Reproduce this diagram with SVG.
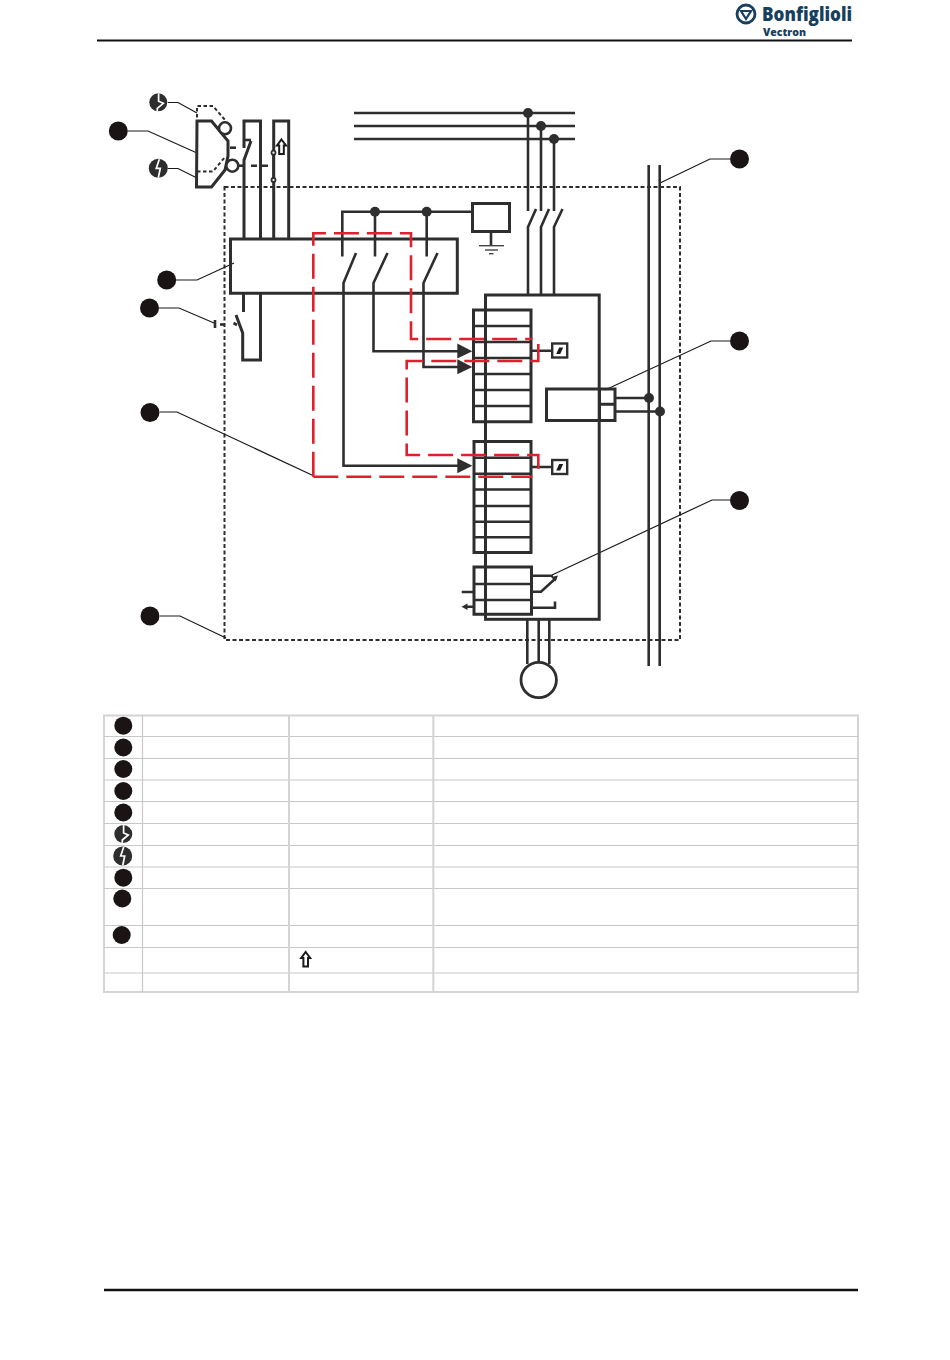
<svg xmlns="http://www.w3.org/2000/svg" width="950" height="1360" viewBox="0 0 950 1360">
<style>
.l{fill:none;stroke:#2e2e2e;stroke-width:2.6}
.b{fill:none;stroke:#2e2e2e;stroke-width:3}
.th{fill:none;stroke:#1a1a1a;stroke-width:1.2}
.d{fill:none;stroke:#2e2e2e;stroke-width:2;stroke-dasharray:4 2.5}
.dd{fill:none;stroke:#2e2e2e;stroke-width:2;stroke-dasharray:3.5 2.5}
.r{fill:none;stroke:#e0202e;stroke-width:2.6;stroke-dasharray:25 8}
.dot{fill:#2e2e2e}
.m{fill:#1a1414}
.tri{fill:#2e2e2e}
.t{fill:none;stroke:#c8c8c8;stroke-width:1.2}
.t2{fill:none;stroke:#d4d4d4;stroke-width:2}
.bolt{fill:none;stroke:#fff;stroke-width:1.7}
.wb{fill:#fff;stroke:#2e2e2e;stroke-width:2.6}
.logo{font-family:"Open Sans","Liberation Sans",sans-serif;font-weight:800;fill:#173f5e}
</style>
<defs>
<g id="icon-make"><circle r="9" fill="#2e2e2e"/><path class="bolt" d="M0.300-9V-1L5 1L-1 6V9"/></g>
<g id="icon-break"><circle r="9.500" fill="#2e2e2e"/><path class="bolt" d="M1-9L-2 0H2L0 9.500"/></g>
<path id="up" d="M0-7.500L4.500-1.500H2.300V7H-2.300V-1.500H-4.500Z" fill="#fff" stroke="#1a1a1a" stroke-width="2"/>
<g id="sw"><rect x="-7.500" y="-7" width="15" height="14" fill="#fff" stroke="#2e2e2e" stroke-width="2.4"/><path d="M-3.500 3.500L-0.500-3H3.500L0.500 3.500Z" fill="#1a1a1a"/></g>
</defs>

<g id="header">
<path d="M97 40.500H852" stroke="#111" stroke-width="2.2"/>
<circle cx="746" cy="14" r="9" fill="none" stroke="#173f5e" stroke-width="2.8"/>
<path d="M741 11H751L746 19Z" fill="none" stroke="#173f5e" stroke-width="2.2"/>
<text class="logo" x="762" y="21" font-size="19" textLength="90" lengthAdjust="spacingAndGlyphs">Bonfiglioli</text>
<text class="logo" x="763" y="36" font-size="10.500" textLength="43" lengthAdjust="spacingAndGlyphs">Vectron</text>
</g>
<path id="footer" d="M104 1290H858" stroke="#111" stroke-width="2.600"/>

<g id="enclosure"><rect x="224.500" y="187" width="455.500" height="453" class="d"/></g>

<g id="connectors">
<path class="th" d="M168 102.500H178L197 113"/>
<path class="th" d="M128 131H148L197 153"/>
<path class="th" d="M168 168.500H178L197 178"/>
<path class="th" d="M176 280H197L234 263"/>
<path class="th" d="M159 308H179L214 323"/>
<path class="th" d="M160 412H177L314 476"/>
<path class="th" d="M160 616H180L226 638"/>
<path class="th" d="M730 159H710L660 183"/>
<path class="th" d="M730 341H711L605 390"/>
<path class="th" d="M730 500H712L552 575"/>
<path class="l" d="M354 113H575M354 126H575M354 139H575"/>
<path class="l" d="M528 113V211M541 126V211M554 139V211"/>
<path class="l" d="M536 209L528 227V295M549 209L541 227V295M562.500 209L554 227V295"/>
<path class="l" d="M648.700 165V666M659.700 165V666"/>
<path class="l" d="M615 398H649M615 411.500H660"/>
<path class="l" d="M527.300 619V664M538.700 619V662M549.300 619V664"/>
<path class="b" d="M244 238V160L251 141M244 148V121H260.500V238"/>
<path class="l" d="M245 140H251"/>
<path class="b" d="M273.700 238V121H288.700V238"/>
<path class="b" d="M243.500 293V312M236 315L242.700 333V360H260.500V293"/>
<path class="l" d="M233.500 323L237 325"/>
<path class="l" d="M215 320V328"/>
<path class="l" d="M220 324.500H225"/>
<path class="l" d="M238 165.700H244"/>
<path class="l" d="M251 165.700H257M262 165.700H268"/>
<path class="l" d="M230 147.700H236"/>
<path class="l" d="M342.300 256.500V211.700H472"/>
<path class="l" d="M375 211.700V256.500M426.700 211.700V256.500"/>
<path class="l" d="M356 253L343.500 283V465.700H460"/>
<path class="l" d="M387.500 253L373.500 283V351.300H460"/>
<path class="l" d="M437.500 253L423.500 283V367H460"/>
<path class="l" d="M491 232V245"/>
<path d="M479 245.700H504" stroke="#444" stroke-width="1.400"/>
<path d="M485 250H498" stroke="#444" stroke-width="1.400"/>
<path d="M489 253.700H493.500" stroke="#444" stroke-width="1.400"/>
<path class="l" d="M531 350.700H552M531 467H552"/>
<path class="l" d="M531.500 575.700H553M531.500 591.700H541L556 578M531.500 607.700H555V601.500"/>
<path d="M558 575.500L551 577L555.500 581.500Z" class="tri"/>
<path class="l" d="M461.700 592H473.500M466 606.700H473.500"/>
<path d="M461.500 606.700L467.500 603.500V610Z" class="tri"/>
</g>

<g id="dots">
<circle class="dot" cx="528" cy="113" r="5"/><circle class="dot" cx="541" cy="126" r="5"/><circle class="dot" cx="554" cy="139" r="5"/>
<circle class="dot" cx="375" cy="211.700" r="5"/><circle class="dot" cx="426.700" cy="211.700" r="5"/>
<circle class="dot" cx="649" cy="398" r="5"/><circle class="dot" cx="660" cy="411.500" r="5"/>
</g>

<g id="guard">
<path class="b" d="M197 121H211.500L228 141V156L225 170L211.500 187H196.500Z"/>
<path class="dd" d="M197 171.500V106H213L225 120"/>
<path class="dd" d="M197 171.500H213L225 157"/>
<circle class="wb" cx="225" cy="128.300" r="6"/>
<circle class="wb" cx="232.300" cy="165.700" r="6"/>
</g>
<g id="aux-contact">
<path class="l" d="M273.700 152.700V180"/>
<circle class="wb" cx="273.500" cy="152.700" r="2" style="stroke-width:1.800"/>
<circle class="wb" cx="273.500" cy="180" r="2" style="stroke-width:1.800"/>
<use href="#up" x="281.500" y="147"/>
</g>

<g id="control-unit"><path class="b" d="M230.500 239H457.300V293.300H230.500Z"/></g>
<g id="pe-box"><rect x="472.500" y="203.500" width="37" height="28" class="b"/></g>
<g id="inverter"><rect x="485.500" y="295" width="113.700" height="324.300" class="b"/></g>
<g id="mod"><rect x="546.500" y="389" width="68.500" height="31.500" class="b"/><path class="b" d="M599.500 389V420.500M599.500 404.300H615"/></g>

<g id="block-1"><path class="b" d="M473.500 310H531V421.700H473.500Z"/><path class="l" d="M473.500 326H531M473.500 342H531M473.500 358H531M473.500 374H531M473.500 390H531M473.500 406H531"/></g>
<g id="block-2"><path class="b" d="M474 441.500H531V552.500H474Z"/><path class="l" d="M474 457.700H531M474 473.700H531M474 489.500H531M474 506H531M474 521.700H531M474 537.300H531"/></g>
<g id="block-3"><path class="b" d="M474 567H531.500V614.300H474Z"/><path class="l" d="M474 584H531.500M474 600H531.500"/></g>
<path class="tri" d="M457.300 343.500V358.500L472.300 351.200Z"/>
<path class="tri" d="M457.300 359.300V374.300L472.300 367Z"/>
<path class="tri" d="M457.300 458.300V473.300L472.300 465.700Z"/>
<use id="sw-1" href="#sw" x="559.700" y="350.500"/>
<use id="sw-2" href="#sw" x="559.700" y="467"/>
<g id="motor"><circle cx="538.700" cy="680" r="17.700" fill="#fff" stroke="#2e2e2e" stroke-width="2.800"/></g>

<g id="safety-path">
<path class="r" d="M313.300 476.700V233.300H411V339H532.300"/>
<path class="r" d="M538.300 344V361H406.700V455H538.300V473.500"/>
<path class="r" d="M313.300 476.700H532.300"/>
</g>

<g id="callouts">
<use href="#icon-make" x="158.300" y="102.300"/>
<circle class="m" cx="118.300" cy="131" r="9.500"/>
<use href="#icon-break" x="158.300" y="168.300"/>
<circle class="m" cx="166.700" cy="280" r="9.500"/>
<circle class="m" cx="149.500" cy="308" r="9.500"/>
<circle class="m" cx="150" cy="412.500" r="9.500"/>
<circle class="m" cx="150" cy="616" r="9.500"/>
<circle class="m" cx="739.500" cy="159" r="9.500"/>
<circle class="m" cx="739.500" cy="341" r="9.500"/>
<circle class="m" cx="739.500" cy="500.500" r="9.500"/>
</g>

<g id="legend">
<rect x="104" y="715.500" width="754" height="276.500" class="t2"/>
<path class="t" d="M104 736.500H858M104 758.500H858M104 780H858M104 801.500H858M104 823.500H858M104 845.500H858M104 867H858M104 888.500H858M104 925.500H858M104 947.500H858M104 973H858"/>
<path class="t" d="M142.500 715.500V992"/>
<path class="t2" d="M289 715.500V992M433.300 715.500V992"/>
<circle class="m" cx="123.300" cy="725.700" r="9"/>
<circle class="m" cx="123.300" cy="747.500" r="9"/>
<circle class="m" cx="123.300" cy="769" r="9"/>
<circle class="m" cx="123.300" cy="791" r="9"/>
<circle class="m" cx="123.300" cy="812.500" r="9"/>
<use href="#icon-make" x="123.300" y="834"/>
<use href="#icon-break" x="122.700" y="856"/>
<circle class="m" cx="123.300" cy="877.700" r="9"/>
<circle class="m" cx="122.300" cy="898.500" r="9"/>
<circle class="m" cx="121.700" cy="935" r="9"/>
<use href="#up" x="305.700" y="959.500"/>
</g>
</svg>
